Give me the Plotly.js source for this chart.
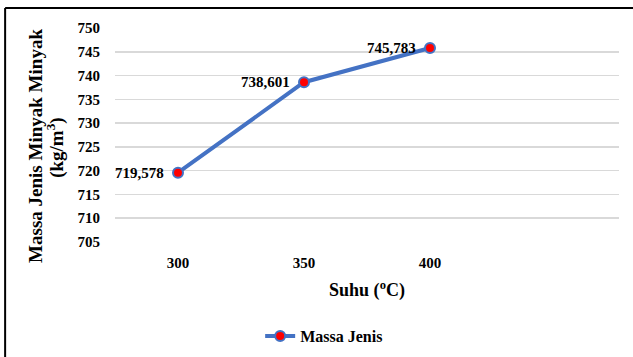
<!DOCTYPE html>
<html>
<head>
<meta charset="utf-8">
<script src="https://cdn.plot.ly/plotly-3.0.1.min.js"></script>
<style>html,body{margin:0;padding:0;background:#fff;}#chart{width:633px;height:357px;}</style>
</head>
<body>
<div id="chart"></div>
<script>
const suhu = [300, 350, 400];
const massaJenis = [719.578, 738.601, 745.783];
const labels = ["719,578", "738,601", "745,783"];
const yTicks = [705, 710, 715, 720, 725, 730, 735, 740, 745, 750];
const seriesName = "Massa Jenis";
const yTitleLines = ["Massa Jenis Minyak Minyak", "(kg/m<sup>3</sup>)"];
const xTitle = "Suhu (<sup>o</sup>C)";

const FONT = "Liberation Serif, Times New Roman, serif";

const trace = {
  x: suhu,
  y: massaJenis,
  name: seriesName,
  type: "scatter",
  mode: "lines+markers",
  line: {color: "#4472C4", width: 4},
  marker: {color: "#FF0000", size: 10, line: {color: "#4472C4", width: 2}},
  cliponaxis: false
};

const labelAnnotations = suhu.map((x, i) => ({
  x: x, y: massaJenis[i], xref: "x", yref: "y",
  text: labels[i], showarrow: false,
  xanchor: "right", yanchor: "middle", xshift: -12,
  font: {family: FONT, size: 15, color: "#000", weight: "bold"}
}));

const yTitleAnnotations = [
  {text: yTitleLines[0], x: -0.1568, y: 0.449},
  {text: yTitleLines[1], x: -0.1171, y: 0.44}
].map(a => Object.assign({
  xref: "paper", yref: "paper", showarrow: false, textangle: -90,
  xanchor: "center", yanchor: "middle",
  font: {family: FONT, size: 19, color: "#000", weight: "bold"}
}, a));

const layout = {
  width: 633, height: 357,
  margin: {l: 115, r: 14, t: 28, b: 115, autoexpand: false},
  paper_bgcolor: "#fff", plot_bgcolor: "#fff",
  font: {family: FONT, size: 15, color: "#000", weight: "bold"},
  showlegend: true,
  legend: {orientation: "h", x: 0.415, xanchor: "center", y: -0.44, yanchor: "middle",
           font: {family: FONT, size: 16, color: "#000", weight: "bold"}},
  xaxis: {
    range: [275, 475],
    tickvals: suhu, ticktext: suhu.map(String),
    showgrid: false, zeroline: false, showline: false, ticks: "",
    ticklabelstandoff: 10,
    tickfont: {family: FONT, size: 15, weight: "bold"},
    title: {text: xTitle, font: {family: FONT, size: 18, weight: "bold"}, standoff: 13}
  },
  yaxis: {
    range: [705, 750],
    tickvals: yTicks,
    showgrid: true, gridcolor: "#D9D9D9", gridwidth: 1.5,
    zeroline: false, showline: false, ticks: "",
    ticklabelstandoff: 14,
    tickfont: {family: FONT, size: 15, weight: "bold"}
  },
  annotations: labelAnnotations.concat(yTitleAnnotations),
  shapes: [
    {type: "line", xref: "paper", yref: "paper", x0: -0.218, x1: 1.03, y0: 1.093, y1: 1.093, line: {color: "#000", width: 2}},
    {type: "line", xref: "paper", yref: "paper", x0: -0.218, x1: -0.218, y0: 1.093, y1: -0.6, line: {color: "#000", width: 2}}
  ]
};

Plotly.newPlot("chart", [trace], layout, {displayModeBar: false, staticPlot: true});
</script>
</body>
</html>
